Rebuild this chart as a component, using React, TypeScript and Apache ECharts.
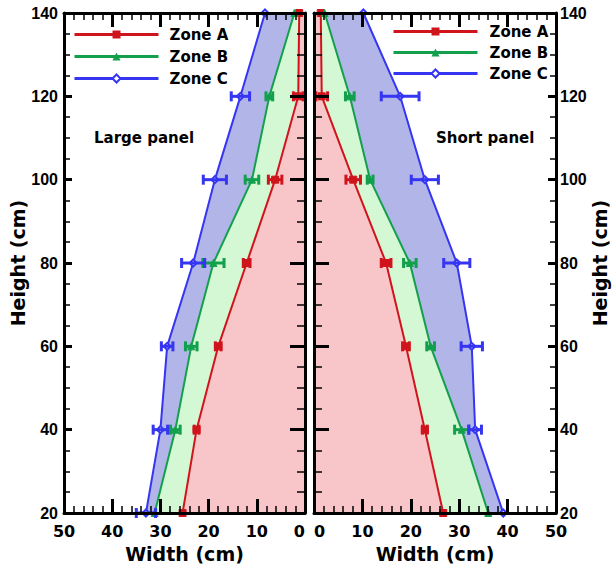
import React, { useEffect, useRef } from 'react';
import * as echarts from 'echarts';

// ---- data ----
const heights = [20, 40, 60, 80, 100, 120, 140];
const heightTicks = [20, 40, 60, 80, 100, 120, 140];
const widthTicks = [0, 10, 20, 30, 40, 50];
const zoneNames = ['Zone A', 'Zone B', 'Zone C'];

// Large panel (left)
const largeA = [25.4, 22.5, 18.0, 12.1, 6.2, 1.4, 1.2];
const largeB = [31.2, 26.9, 23.6, 19.0, 11.0, 7.4, 2.2];
const largeC = [33.0, 30.0, 28.6, 23.2, 18.7, 13.4, 8.3];
const largeAErr = [0, 0.5, 0.6, 0.7, 1.4, 1.0, 0];
const largeBErr = [0, 1.0, 1.2, 2.2, 1.4, 0.7, 0];
const largeCErr = [2.0, 1.5, 1.2, 2.4, 2.4, 1.9, 0];

// Short panel (right)
const shortA = [26.7, 22.9, 19.0, 14.9, 8.1, 1.6, 1.4];
const shortB = [36.0, 30.5, 24.1, 19.8, 11.6, 7.4, 2.2];
const shortC = [39.1, 33.3, 32.6, 29.5, 22.9, 17.8, 10.2];
const shortAErr = [0, 0.5, 0.7, 1.0, 1.5, 1.2, 0];
const shortBErr = [0, 1.45, 0.8, 1.3, 0.6, 0.9, 0];
const shortCErr = [0, 1.3, 2.2, 2.7, 2.8, 3.9, 0];

const panelLabels = ['Large panel', 'Short panel'];

// ---- styles ----
const RED = '#d0141c';
const GREEN = '#12a04c';
const BLUE = '#3535f2';
const RED_FILL = '#f8c6c8';
const GREEN_FILL = '#d3f8d3';
const BLUE_FILL = '#b1b5e8';
const BOLD = 'DejaVu Sans';

function xAxisDef(gridIndex: number, inverse: boolean, position: 'top' | 'bottom', labels: boolean) {
  return {
    type: 'value',
    gridIndex,
    position,
    inverse,
    min: widthTicks[0],
    max: widthTicks[widthTicks.length - 1],
    interval: widthTicks[1] - widthTicks[0],
    z: 10,
    name: labels ? 'Width (cm)' : '',
    nameLocation: 'middle',
    nameGap: 31,
    nameTextStyle: { fontFamily: BOLD, fontWeight: 'bold', fontSize: 19, color: '#000' },
    axisLine: { show: true, onZero: false, lineStyle: { color: '#000', width: 3 } },
    axisTick: { show: true, inside: true, length: 14, lineStyle: { color: '#000', width: 3 } },
    minorTick: { show: true, splitNumber: 5, length: 7, lineStyle: { color: '#000', width: 1.5 } },
    axisLabel: {
      show: labels,
      margin: 10,
      fontFamily: BOLD,
      fontWeight: 'bold',
      fontSize: 16,
      color: '#000',
      alignMinLabel: inverse ? 'right' : 'left',
    },
    splitLine: { show: false },
  };
}

function yAxisDef(gridIndex: number, position: 'left' | 'right', labels: boolean, inner: boolean) {
  return {
    type: 'value',
    gridIndex,
    position,
    min: heightTicks[0],
    max: heightTicks[heightTicks.length - 1],
    interval: heightTicks[1] - heightTicks[0],
    z: 10,
    name: labels ? 'Height (cm)' : '',
    nameLocation: 'middle',
    nameRotate: 90,
    nameGap: position === 'left' ? 29 : 31,
    nameTextStyle: { fontFamily: BOLD, fontWeight: 'bold', fontSize: 19, color: '#000' },
    axisLine: { show: true, onZero: false, lineStyle: { color: '#000', width: 3 } },
    axisTick: { show: true, inside: true, length: inner ? 15 : 8, lineStyle: { color: '#000', width: 3 } },
    minorTick: { show: true, splitNumber: 4, length: inner ? 8 : 6, lineStyle: { color: '#000', width: 1.5 } },
    axisLabel: {
      show: labels,
      margin: position === 'left' ? 6 : 4,
      fontFamily: "'Liberation Sans Narrow', 'Arial Narrow', 'Liberation Sans', sans-serif",
      fontWeight: 'bold',
      fontSize: 16,
      color: '#000',
    },
    splitLine: { show: false },
  };
}

function bandSeries(axis: number, outer: number[], inner: number[] | null, color: string, z: number) {
  return {
    type: 'custom',
    xAxisIndex: axis,
    yAxisIndex: axis,
    silent: true,
    z,
    data: [[outer[0], heights[0]]],
    renderItem: (_p: any, api: any) => {
      const pts: number[][] = [];
      outer.forEach((v, i) => pts.push(api.coord([v, heights[i]])));
      for (let i = heights.length - 1; i >= 0; i--) {
        pts.push(api.coord([inner ? inner[i] : 0, heights[i]]));
      }
      return { type: 'polygon', shape: { points: pts }, style: { fill: color } };
    },
  };
}

function lineSeries(axis: number, name: string, vals: number[], color: string, symbol: string) {
  return {
    type: 'line',
    name,
    xAxisIndex: axis,
    yAxisIndex: axis,
    data: heights.map((h, i) => [vals[i], h]),
    symbol,
    symbolSize: 7,
    showSymbol: true,
    lineStyle: { color, width: 2 },
    itemStyle: { color, borderColor: color },
    z: 3,
  };
}

function errSeries(axis: number, vals: number[], errs: number[], color: string) {
  return {
    type: 'custom',
    xAxisIndex: axis,
    yAxisIndex: axis,
    silent: true,
    z: 5,
    data: heights.map((h, i) => [vals[i], h, errs[i]]),
    renderItem: (_p: any, api: any) => {
      const x = api.value(0);
      const y = api.value(1);
      const e = api.value(2);
      if (!e) return null;
      const a = api.coord([x - e, y]);
      const b = api.coord([x + e, y]);
      const h = 5;
      const st = { stroke: color, lineWidth: 3 };
      return {
        type: 'group',
        children: [
          { type: 'line', shape: { x1: a[0], y1: a[1], x2: b[0], y2: b[1] }, style: st },
          { type: 'line', shape: { x1: a[0], y1: a[1] - h, x2: a[0], y2: a[1] + h }, style: st },
          { type: 'line', shape: { x1: b[0], y1: b[1] - h, x2: b[0], y2: b[1] + h }, style: st },
        ],
      };
    },
  };
}

function legendDef(left: number, top: number, gap: number, textPad: number) {
  return {
    data: zoneNames,
    orient: 'vertical',
    left,
    top,
    padding: 0,
    itemGap: gap,
    itemWidth: 84,
    itemHeight: 10,
    selectedMode: false,
    lineStyle: { width: 3 },
    textStyle: { fontFamily: BOLD, fontWeight: 'bold', fontSize: 15, color: '#000', padding: [0, 0, 0, textPad] },
  };
}

export default function App() {
  const ref = useRef<HTMLDivElement>(null);
  useEffect(() => {
    if (!ref.current) return;
    const chart = echarts.init(ref.current, null, { renderer: 'svg' });
    const option: any = {
      animation: false,
      backgroundColor: '#fff',
      grid: [
        { left: 64, right: 311, top: 13, bottom: 55 },
        { left: 314, right: 60, top: 13, bottom: 55 },
      ],
      xAxis: [
        xAxisDef(0, true, 'bottom', true),
        xAxisDef(0, true, 'top', false),
        xAxisDef(1, false, 'bottom', true),
        xAxisDef(1, false, 'top', false),
      ],
      yAxis: [
        yAxisDef(0, 'left', true, false),
        yAxisDef(0, 'right', false, true),
        yAxisDef(1, 'left', false, true),
        yAxisDef(1, 'right', true, false),
      ],
      legend: [legendDef(73, 27, 7, 6), legendDef(392, 24, 6, 7)],
      graphic: [
        {
          type: 'text',
          left: 94,
          top: 130,
          style: { text: panelLabels[0], font: `bold 15px '${BOLD}'`, fill: '#000' },
          z: 20,
        },
        {
          type: 'text',
          left: 436,
          top: 130,
          style: { text: panelLabels[1], font: `bold 15px '${BOLD}'`, fill: '#000' },
          z: 20,
        },
      ],
      series: [
        // left panel (axis index 0)
        bandSeries(0, largeA, null, RED_FILL, 1),
        bandSeries(0, largeB, largeA, GREEN_FILL, 1),
        bandSeries(0, largeC, largeB, BLUE_FILL, 1),
        lineSeries(0, 'Zone A', largeA, RED, 'rect'),
        lineSeries(0, 'Zone B', largeB, GREEN, 'triangle'),
        lineSeries(0, 'Zone C', largeC, BLUE, 'emptyDiamond'),
        errSeries(0, largeA, largeAErr, RED),
        errSeries(0, largeB, largeBErr, GREEN),
        errSeries(0, largeC, largeCErr, BLUE),
        // right panel (axis index 2)
        bandSeries(2, shortA, null, RED_FILL, 1),
        bandSeries(2, shortB, shortA, GREEN_FILL, 1),
        bandSeries(2, shortC, shortB, BLUE_FILL, 1),
        lineSeries(2, 'Zone A', shortA, RED, 'rect'),
        lineSeries(2, 'Zone B', shortB, GREEN, 'triangle'),
        lineSeries(2, 'Zone C', shortC, BLUE, 'emptyDiamond'),
        errSeries(2, shortA, shortAErr, RED),
        errSeries(2, shortB, shortBErr, GREEN),
        errSeries(2, shortC, shortCErr, BLUE),
      ],
    };
    chart.setOption(option);
    return () => chart.dispose();
  }, []);
  return <div ref={ref} style={{ width: 616, height: 568, position: 'absolute', left: 0, top: 0 }} />;
}
